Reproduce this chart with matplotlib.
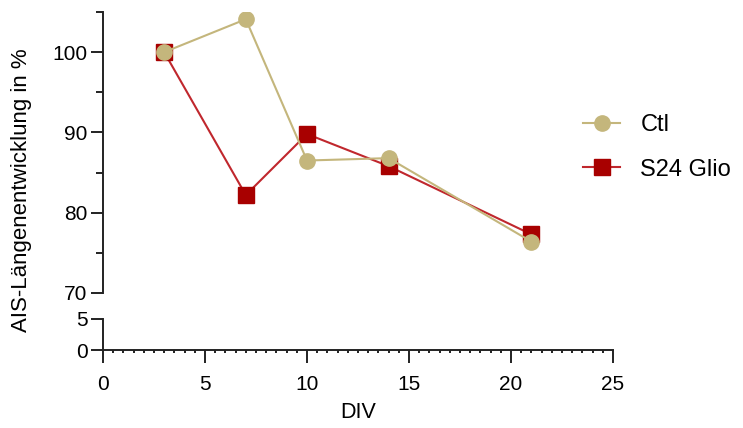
import numpy as np
import matplotlib.pyplot as plt
from matplotlib.ticker import MultipleLocator, FixedLocator

plt.rcParams["font.family"] = ["Liberation Sans", "DejaVu Sans"]
plt.rcParams["font.size"] = 15

# ---------------------------------------------------------
# Data: AIS length development (%) over days in vitro
# ---------------------------------------------------------
div = [3, 7, 10, 14, 21]
ctl = [100, 104.1, 86.5, 86.8, 76.4]
s24_glio = [100, 82.2, 89.8, 85.8, 77.3]

ctl_color = "#c4b67c"
glio_line = "#c0272d"
glio_face = "#a80000"

# ---------------------------------------------------------
# Broken y-axis: upper segment 70-105, lower segment 0-5
# ---------------------------------------------------------
fig = plt.figure(figsize=(7.43, 4.28), dpi=100)
ax_top = fig.add_axes([103 / 743, 1 - 293 / 428, 510 / 743, 281 / 428])
ax_bot = fig.add_axes([103 / 743, 1 - 350 / 428, 510 / 743, 31 / 428])

for ax in (ax_top, ax_bot):
    ax.plot(div, s24_glio, color=glio_line, lw=1.5, marker="s", ms=11,
            mfc=glio_face, mec=glio_face, label="S24 Glio", zorder=3)
    ax.plot(div, ctl, color=ctl_color, lw=1.5, marker="o", ms=11,
            mfc=ctl_color, mec=ctl_color, label="Ctl", zorder=4)
    ax.set_xlim(0, 25)
    ax.spines["top"].set_visible(False)
    ax.spines["right"].set_visible(False)
    ax.spines["left"].set_linewidth(1.4)
    ax.spines["bottom"].set_linewidth(1.4)
    ax.spines["left"].set_color("#222222")
    ax.spines["bottom"].set_color("#222222")
    ax.tick_params(axis="y", which="major", length=9, width=1.4,
                   color="#222222", labelsize=15, pad=2)
    ax.tick_params(axis="y", which="minor", length=5, width=1.4,
                   color="#222222")

# upper segment
ax_top.set_ylim(70, 105)
ax_top.set_yticks([70, 80, 90, 100])
ax_top.yaxis.set_minor_locator(FixedLocator([75, 85, 95, 105]))
ax_top.spines["bottom"].set_visible(False)
ax_top.tick_params(axis="x", which="both", bottom=False, labelbottom=False)

# lower segment
ax_bot.set_ylim(0, 5)
ax_bot.set_yticks([0, 5])
ax_bot.set_xticks(np.arange(0, 26, 5))
ax_bot.xaxis.set_minor_locator(MultipleLocator(0.5))
ax_bot.tick_params(axis="x", which="major", length=9, width=1.4,
                   color="#222222", labelsize=15, pad=9)
ax_bot.tick_params(axis="x", which="minor", length=2.5, width=1.4,
                   color="#222222")
ax_bot.set_xlabel("DIV", fontsize=15.5, labelpad=6)

fig.text(22 / 743, 1 - 190 / 428, "AIS-Längenentwicklung in %",
         rotation=90, ha="center", va="center", fontsize=16)

# legend: Ctl first, then S24 Glio
handles, labels = ax_top.get_legend_handles_labels()
ax_top.legend(handles[::-1], labels[::-1], loc="upper left",
              bbox_to_anchor=(562 / 743, 1 - 93 / 428),
              bbox_transform=fig.transFigure, frameon=False,
              fontsize=17, labelspacing=0.95, handlelength=1.57,
              handletextpad=0.85)

plt.savefig("out.png", dpi=100)
